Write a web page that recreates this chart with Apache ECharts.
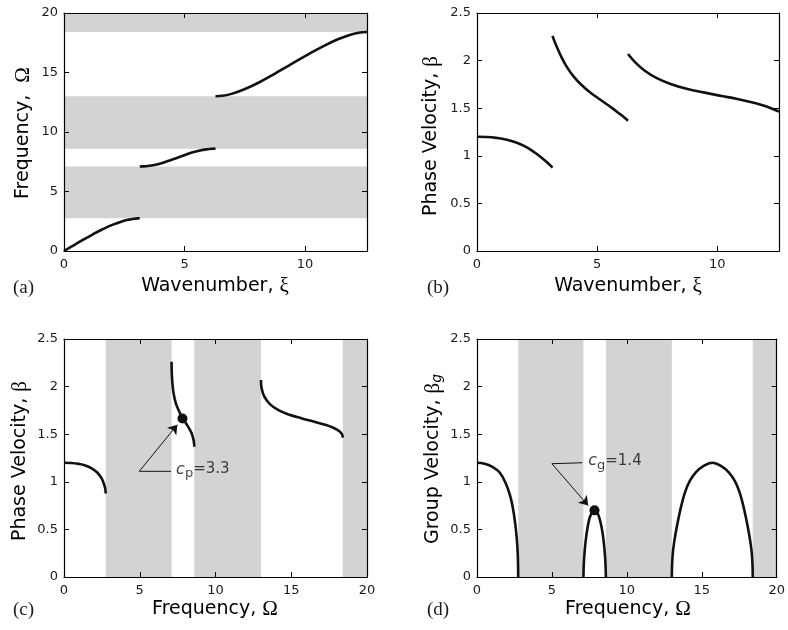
<!DOCTYPE html>
<html>
<head>
<meta charset="utf-8">
<script src="https://cdn.jsdelivr.net/npm/echarts@6/dist/echarts.min.js"></script>
<style>
  html, body { margin: 0; padding: 0; background: #ffffff; }
  #chart { width: 788px; height: 630px; }
</style>
</head>
<body>
<div id="chart"></div>
<script>
// Pass band 1: wavenumber, frequency and phase velocity
const xi1    = [0, 0.4, 0.8, 1.2, 1.6, 2.0, 2.4, 2.7, 2.9, 3.05, 3.1416];
const omega1 = [0, 0.479, 0.950, 1.406, 1.827, 2.196, 2.484, 2.638, 2.712, 2.745, 2.75];
const beta1  = [1.2, 1.197, 1.188, 1.172, 1.142, 1.098, 1.035, 0.977, 0.935, 0.900, 0.876];

// Pass band 2
const xi2    = [3.142, 3.292, 3.492, 3.742, 4.042, 4.342, 4.712, 5.042, 5.342, 5.642, 5.942, 6.142, 6.283];
const omega2 = [7.10, 7.11, 7.15, 7.23, 7.38, 7.58, 7.84, 8.09, 8.29, 8.45, 8.55, 8.59, 8.60];
const beta2  = [2.26, 2.16, 2.048, 1.932, 1.826, 1.746, 1.664, 1.605, 1.552, 1.498, 1.439, 1.399, 1.369];

// Pass band 3
const xi3    = [6.283, 6.583, 6.983, 7.483, 8.083, 8.683, 9.425, 10.183, 10.783, 11.383, 11.883, 12.283, 12.566];
const omega3 = [13.00, 13.045, 13.225, 13.59, 14.16, 14.83, 15.70, 16.58, 17.24, 17.81, 18.18, 18.36, 18.40];
const beta3  = [2.069, 1.982, 1.894, 1.816, 1.752, 1.707, 1.666, 1.628, 1.599, 1.565, 1.530, 1.495, 1.464];

// Group velocity against frequency, one array pair per pass band
const omegaG1 = [0, 0.5, 1.0, 1.5, 1.9, 2.2, 2.4, 2.55, 2.65, 2.72, 2.75];
const betaG1  = [1.2, 1.19, 1.16, 1.10, 0.99, 0.86, 0.72, 0.56, 0.41, 0.24, 0];
const omegaG2 = [7.10, 7.13, 7.2, 7.3, 7.45, 7.6, 7.84, 8.05, 8.25, 8.4, 8.5, 8.57, 8.60];
const betaG2  = [0, 0.15, 0.30, 0.44, 0.58, 0.655, 0.70, 0.67, 0.57, 0.44, 0.30, 0.15, 0];
const omegaG3 = [13.0, 13.01, 13.03, 13.06, 13.1, 13.18, 13.3, 13.45, 13.65, 13.9, 14.2, 14.6, 15.1, 15.7,
                 16.3, 16.8, 17.2, 17.5, 17.75, 17.95, 18.1, 18.22, 18.3, 18.34, 18.37, 18.39, 18.4];
const betaG3  = [0, 0.10, 0.17, 0.24, 0.30, 0.39, 0.50, 0.62, 0.76, 0.90, 1.01, 1.10, 1.165, 1.20,
                 1.165, 1.10, 1.01, 0.90, 0.76, 0.62, 0.50, 0.39, 0.30, 0.24, 0.17, 0.10, 0];

// Stop bands (frequency ranges with no propagating waves)
const stopBands = [[2.75, 7.10], [8.60, 13.00], [18.40, 20.00]];

// Highlighted operating point and its quoted speeds
const markPhase = [7.82, 1.665];
const markGroup = [7.84, 0.70];
const phaseSpeed = '3.3';
const groupSpeed = '1.4';

const SANS = '"DejaVu Sans", "Liberation Sans", sans-serif';
const SERIF = '"Liberation Serif", "DejaVu Serif", serif';
const INK = '#111111';
const BAND = '#d1d3d4';
const XI_MAX = 4 * Math.PI;

const pairs = (xs, ys) => xs.map((x, i) => [x, ys[i]]);

const grids = [
  { left: 64,  top: 13,  width: 303, height: 238 },
  { left: 477, top: 13,  width: 302, height: 238 },
  { left: 64,  top: 339, width: 303, height: 238 },
  { left: 477, top: 339, width: 302, height: 238 }
];

function frameAxis(kind, gi, position, min, max, interval, labelled, extraLabel) {
  return {
    type: 'value',
    gridIndex: gi,
    position: position,
    min: min, max: max, interval: interval,
    z: 10,
    axisLine: { show: true, onZero: false, lineStyle: { color: '#000', width: 1.2 } },
    axisTick: { show: true, inside: true, length: 5, lineStyle: { color: '#000', width: 1 } },
    splitLine: { show: false },
    axisLabel: Object.assign({
      show: labelled,
      color: '#1a1a1a',
      fontFamily: SANS,
      fontSize: 13,
      margin: kind === 'x' ? 7 : 6
    }, extraLabel || {})
  };
}

const xAxis = [];
const yAxis = [];
// (a) and (b): wavenumber axes
[0, 1].forEach(gi => {
  xAxis.push(frameAxis('x', gi, 'bottom', 0, XI_MAX, 5, true, { showMaxLabel: false }));
  xAxis.push(frameAxis('x', gi, 'top', 0, XI_MAX, 5, false));
});
// (c) and (d): frequency axes
[2, 3].forEach(gi => {
  xAxis.push(frameAxis('x', gi, 'bottom', 0, 20, 5, true));
  xAxis.push(frameAxis('x', gi, 'top', 0, 20, 5, false));
});
yAxis.push(frameAxis('y', 0, 'left', 0, 20, 5, true));
yAxis.push(frameAxis('y', 0, 'right', 0, 20, 5, false));
[1, 2, 3].forEach(gi => {
  yAxis.push(frameAxis('y', gi, 'left', 0, 2.5, 0.5, true));
  yAxis.push(frameAxis('y', gi, 'right', 0, 2.5, 0.5, false));
});

function curve(gi, data) {
  return {
    type: 'line',
    xAxisIndex: 2 * gi, yAxisIndex: 2 * gi,
    data: data,
    smooth: 0.4,
    showSymbol: false,
    symbol: 'none',
    silent: true,
    z: 3,
    lineStyle: { color: INK, width: 2.6 }
  };
}

function bands(gi, dim) {
  return {
    type: 'line',
    xAxisIndex: 2 * gi, yAxisIndex: 2 * gi,
    data: [],
    silent: true,
    z: 1,
    markArea: {
      silent: true,
      itemStyle: { color: BAND, borderWidth: 0 },
      data: stopBands.map(b => [{ [dim]: b[0] }, { [dim]: b[1] }])
    }
  };
}

function dot(gi, p) {
  return {
    type: 'scatter',
    xAxisIndex: 2 * gi, yAxisIndex: 2 * gi,
    data: [p],
    symbol: 'circle',
    symbolSize: 10,
    silent: true,
    z: 5,
    itemStyle: { color: INK, opacity: 1 }
  };
}

// leader line from the text to the elbow, plus the arrow from the elbow to the marked point
function leader(gi, textEnd, elbow, tip) {
  return {
    type: 'line',
    xAxisIndex: 2 * gi, yAxisIndex: 2 * gi,
    data: [textEnd, elbow],
    showSymbol: false,
    symbol: 'none',
    silent: true,
    z: 4,
    lineStyle: { color: INK, width: 1 },
    markLine: {
      silent: true,
      symbol: ['none', 'arrow'],
      symbolSize: 9,
      label: { show: false },
      lineStyle: { color: INK, width: 1, type: 'solid' },
      data: [[{ coord: elbow }, { coord: tip }]]
    }
  };
}

function speedLabel(gi, at, sub, value) {
  return {
    type: 'scatter',
    xAxisIndex: 2 * gi, yAxisIndex: 2 * gi,
    data: [at],
    symbolSize: 0,
    silent: true,
    z: 6,
    label: {
      show: true,
      position: 'right',
      distance: 0,
      formatter: '{i|c}{s|' + sub + '}{n|=' + value + '}',
      rich: {
        i: { fontFamily: SANS, fontStyle: 'italic', fontSize: 16, color: INK },
        s: { fontFamily: SANS, fontSize: 13, color: INK, padding: [9, 0, 0, 0] },
        n: { fontFamily: SANS, fontSize: 15, color: INK }
      }
    }
  };
}

const series = [
  bands(0, 'yAxis'),
  curve(0, pairs(xi1, omega1)), curve(0, pairs(xi2, omega2)), curve(0, pairs(xi3, omega3)),

  curve(1, pairs(xi1, beta1)), curve(1, pairs(xi2, beta2)), curve(1, pairs(xi3, beta3)),

  bands(2, 'xAxis'),
  curve(2, pairs(omega1, beta1)), curve(2, pairs(omega2, beta2)), curve(2, pairs(omega3, beta3)),
  dot(2, markPhase),
  leader(2, [7.06, 1.11], [4.97, 1.11], [7.48, 1.60]),
  speedLabel(2, [7.40, 1.13], 'p', phaseSpeed),

  bands(3, 'xAxis'),
  curve(3, pairs(omegaG1, betaG1)), curve(3, pairs(omegaG2, betaG2)), curve(3, pairs(omegaG3, betaG3)),
  dot(3, markGroup),
  leader(3, [7.02, 1.20], [5.0, 1.19], [7.42, 0.75]),
  speedLabel(3, [7.42, 1.22], 'g', groupSpeed)
];

const titleRich = {
  t: { fontFamily: SANS, fontSize: 19, color: '#1a1a1a' },
  g: { fontFamily: SERIF, fontSize: 21, color: '#1a1a1a' },
  s: { fontFamily: SANS, fontStyle: 'italic', fontSize: 14, color: '#1a1a1a', padding: [8, 0, 0, 0] }
};

function title(text, x, y, vertical) {
  return {
    type: 'text',
    x: x, y: y,
    rotation: vertical ? Math.PI / 2 : 0,
    silent: true,
    style: { text: text, rich: titleRich, align: 'center', verticalAlign: 'middle' }
  };
}

function tag(text, x, y) {
  return {
    type: 'text',
    x: x, y: y,
    silent: true,
    style: {
      text: text, fill: '#1a1a1a',
      fontFamily: SERIF, fontSize: 19,
      align: 'left', verticalAlign: 'middle'
    }
  };
}

const graphic = [
  title('{t|Frequency,  }{g|Ω}', 23, 133, true),
  title('{t|Wavenumber, }{g|ξ}', 215, 286, false),
  tag('(a)', 13, 288),

  title('{t|Phase Velocity, }{g|β}', 431, 136, true),
  title('{t|Wavenumber, }{g|ξ}', 628, 286, false),
  tag('(b)', 427, 288),

  title('{t|Phase Velocity, }{g|β}', 20, 461, true),
  title('{t|Frequency, }{g|Ω}', 215, 609, false),
  tag('(c)', 13, 610),

  title('{t|Group Velocity, }{g|β}{s|g}', 433, 459, true),
  title('{t|Frequency, }{g|Ω}', 628, 609, false),
  tag('(d)', 427, 610)
];

const chart = echarts.init(document.getElementById('chart'), null, { renderer: 'canvas' });
chart.setOption({
  animation: false,
  backgroundColor: '#ffffff',
  grid: grids,
  xAxis: xAxis,
  yAxis: yAxis,
  series: series,
  graphic: graphic
});
</script>
</body>
</html>
